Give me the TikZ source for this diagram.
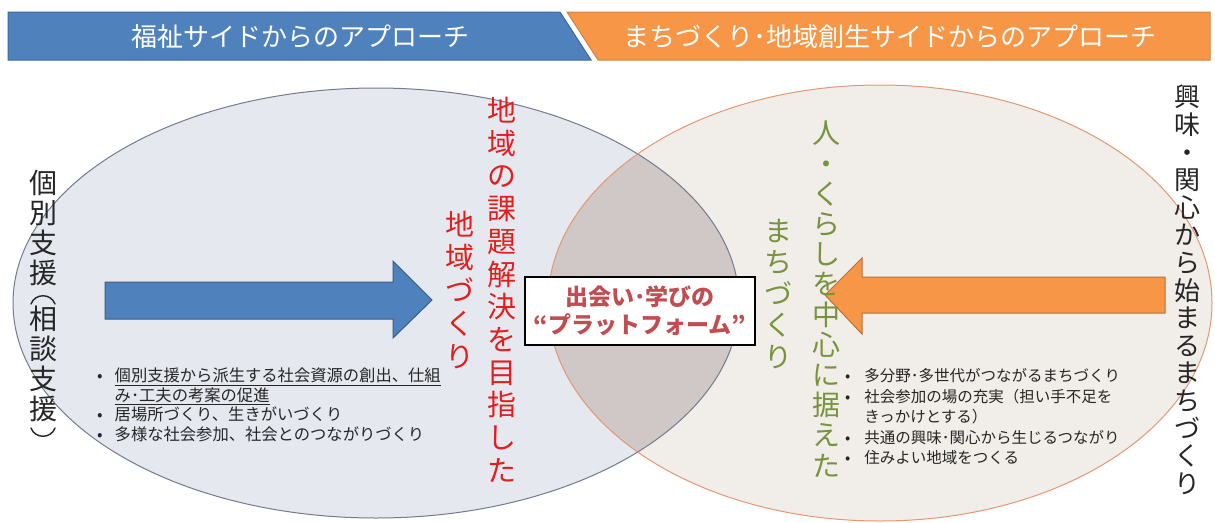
\documentclass[tikz,border=0pt]{standalone}
\usepackage{fontspec}
\setmainfont{Noto Sans CJK JP}
\definecolor{bannerblue}{HTML}{4F81BD}
\definecolor{bannerblueline}{HTML}{3A6AA3}
\definecolor{bannerorange}{HTML}{F79646}
\definecolor{bannerorangeline}{HTML}{D0843E}
\definecolor{lfill}{HTML}{E5E8EF}
\definecolor{rfill}{HTML}{F1EDE8}
\definecolor{ofill}{HTML}{CFC8C6}
\definecolor{lborder}{HTML}{737B8C}
\definecolor{rborder}{HTML}{E39873}
\definecolor{arrowblue}{HTML}{4F81BD}
\definecolor{arrowblueline}{HTML}{385D8A}
\definecolor{arroworange}{HTML}{F79646}
\definecolor{arroworangeline}{HTML}{B8703A}
\definecolor{redtext}{HTML}{E0201E}
\definecolor{greentext}{HTML}{77933C}
\definecolor{boxtext}{HTML}{BF4D52}
\definecolor{bodytext}{HTML}{262626}
\tikzset{
  bannertext/.style={text=white, font=\fontsize{26}{30}\selectfont, inner sep=0pt},
  vtext/.style={align=center, inner sep=0pt, anchor=north},
  listtext/.style={anchor=north west, inner sep=0pt, text=bodytext},
  vparen/.style={draw=bodytext, line width=1.4pt, line cap=round},
}
\begin{document}
\begin{tikzpicture}[x=1pt,y=-1pt]
\useasboundingbox (0,0) rectangle (1215,522);
\fill[white] (0,0) rectangle (1215,522);

% banner
\filldraw[fill=bannerblue, draw=bannerblueline, line width=1pt]
  (8,12) -- (560,12) -- (591,60) -- (8,60) -- cycle;
\filldraw[fill=bannerorange, draw=bannerorangeline, line width=1pt]
  (567,12) -- (1210,12) -- (1210,60) -- (598,60) -- cycle;
\draw[white, line width=2pt] (563,10) -- (595,62);
\node[bannertext] (bl) at (300,37) {福祉サイドからのアプローチ};
\node[bannertext] (br) at (890,37) {まちづくり･地域創生サイドからのアプローチ};

% ellipses
\fill[lfill] (376,303) ellipse [x radius=363, y radius=215];
\fill[rfill] (880,303) ellipse [x radius=332, y radius=218];
\begin{scope}
  \clip (376,303) ellipse [x radius=363, y radius=215];
  \fill[ofill] (880,303) ellipse [x radius=332, y radius=218];
\end{scope}
\draw[lborder, line width=1pt] (376,303) ellipse [x radius=363, y radius=215];
\draw[rborder, line width=1pt] (880,303) ellipse [x radius=332, y radius=218];

% arrows
\filldraw[fill=arrowblue, draw=arrowblueline, line width=1pt]
  (105,282) -- (393,282) -- (393,261) -- (432,300) -- (393,338) -- (393,319) -- (105,319) -- cycle;
\filldraw[fill=arroworange, draw=arroworangeline, line width=1pt]
  (1165,277) -- (862,277) -- (862,258) -- (825,295) -- (862,334) -- (862,313) -- (1165,313) -- cycle;

% vertical texts
\node[vtext, text=redtext, font=\fontsize{29}{32.7}\selectfont] (redmain) at (502,97)
  {地\\域\\の\\課\\題\\解\\決\\を\\目\\指\\し\\た};
\node[vtext, text=redtext, font=\fontsize{29}{33}\selectfont] (redsub) at (460,211)
  {地\\域\\づ\\く\\り};
\node[vtext, text=greentext, font=\fontsize{28}{30.2}\selectfont] (greenmain) at (826,121)
  {人\\・\\く\\ら\\し\\を\\中\\心\\に\\据\\え\\た};
\node[vtext, text=greentext, font=\fontsize{28}{31.5}\selectfont] (greensub) at (778,219)
  {ま\\ち\\づ\\く\\り};
\node[vtext, text=bodytext, font=\fontsize{28}{30}\selectfont] (lefttitleA) at (43,170)
  {個\\別\\支\\援};
\node[vtext, text=bodytext, font=\fontsize{28}{30}\selectfont] (lefttitleB) at (43,306)
  {相\\談\\支\\援};
\path[vparen] (31,304) .. controls (35,293) and (51,293) .. (55,304);
\path[vparen] (31,428) .. controls (35,439) and (51,439) .. (55,428);
\node[vtext, text=bodytext, font=\fontsize{26}{27.6}\selectfont] (righttitle) at (1187,85)
  {興\\味\\・\\関\\心\\か\\ら\\始\\ま\\る\\ま\\ち\\づ\\く\\り};

% center box
\node[draw=black, fill=white, line width=1.2pt, minimum width=230, minimum height=68, inner sep=0pt] (box) at (640,311) {};
\node[align=center, inner sep=0pt, text=boxtext, font=\fontsize{23}{28}\selectfont\bfseries] (boxtext) at (box.center)
  {出会い･学びの\\“プラットフォーム”};

% bullet lists
\node[listtext] (leftlist) at (97,368)
  {\fontsize{16.3}{19}\selectfont
   \begin{tabular}{@{}l@{\hspace{12pt}}l@{}}
   •& \underline{個別支援から派生する社会資源の創出、仕組}\\
    & \underline{み･工夫の考案の促進}\\
   •& 居場所づくり、生きがいづくり\\
   •& 多様な社会参加、社会とのつながりづくり
   \end{tabular}};
\node[listtext] (rightlist) at (845,367)
  {\fontsize{15.5}{20.5}\selectfont
   \begin{tabular}{@{}l@{\hspace{14pt}}l@{}}
   •& 多分野･多世代がつながるまちづくり\\
   •& 社会参加の場の充実（担い手不足を\\
    & きっかけとする）\\
   •& 共通の興味･関心から生じるつながり\\
   •& 住みよい地域をつくる
   \end{tabular}};
\end{tikzpicture}
\end{document}
